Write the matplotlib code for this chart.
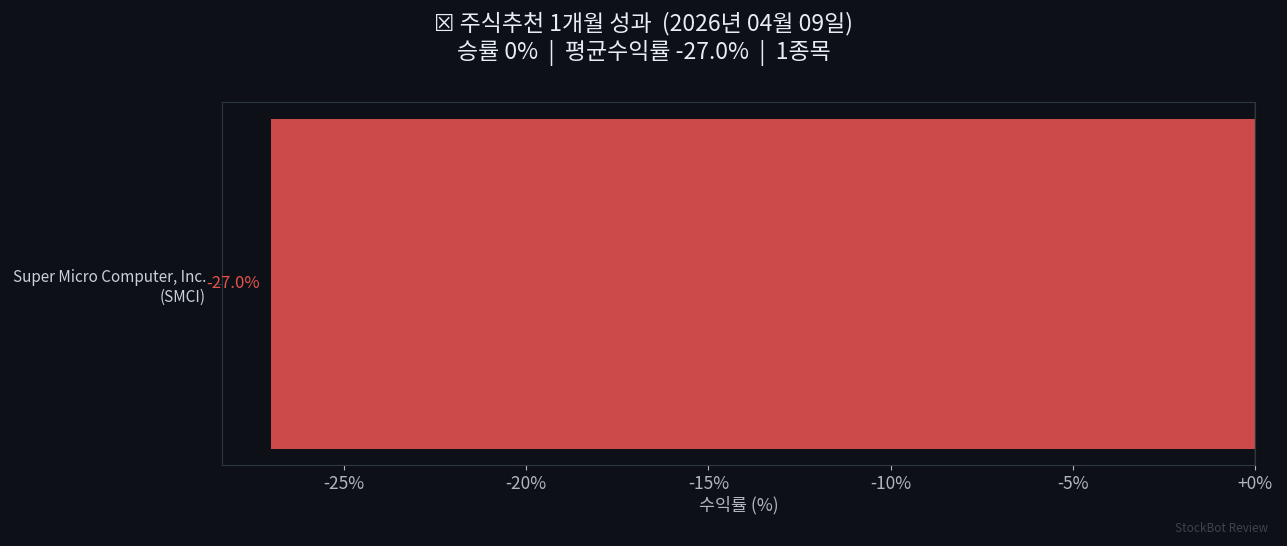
import matplotlib
matplotlib.use("Agg")
import matplotlib.pyplot as plt
from matplotlib.ticker import FuncFormatter

plt.rcParams['font.family'] = ['Noto Sans CJK KR', 'DejaVu Sans']

# 데이터
names = ["Super Micro Computer, Inc.\n(SMCI)"]
returns = [-27.0]
title_date = "2026년 04월 09일"
win_rate = 0
avg_return = -27.0

BG = "#0d1117"
BAR_RED = "#cd4a4a"
TEXT_RED = "#e5534b"
SPINE = "#30363d"
TICK = "#b0b6bf"

fig, ax = plt.subplots(figsize=(12.87, 5.46), dpi=100)
fig.patch.set_facecolor(BG)
ax.set_facecolor(BG)

y = list(range(len(names)))
ax.barh(y, returns, color=BAR_RED, height=0.6)
ax.axvline(0, color="#555b63", linewidth=1)

for yi, v in zip(y, returns):
    lbl = f"{v:.1f}%" if v < 0 else f"+{v:.1f}%"
    ax.text(v - 0.3, yi, lbl, va="center", ha="right", color=TEXT_RED, fontsize=12)

ax.set_yticks(y)
ax.set_yticklabels(names, fontsize=11, linespacing=1.25)
ax.set_xlim(min(returns) * 1.05, 0)
ax.xaxis.set_major_formatter(FuncFormatter(lambda v, p: f"{v:+.0f}%"))
ax.tick_params(axis="x", colors=TICK, labelsize=12.5)
ax.tick_params(axis="y", colors=SPINE, pad=8)
for lab in ax.get_yticklabels():
    lab.set_color("#c9d1d9")
ax.set_xlabel("수익률 (%)", color=TICK, fontsize=12.5, labelpad=2)

for s in ax.spines.values():
    s.set_color(SPINE)

fig.suptitle(f"☒ 주식추천 1개월 성과  ({title_date})\n"
             f"승률 {win_rate}%  |  평균수익률 {avg_return:.1f}%  |  {len(names)}종목",
             color="#e6edf3", fontsize=16.5, y=0.978, linespacing=1.2)
fig.text(0.985, 0.025, "StockBot Review", color="#3d444d", fontsize=8.5, ha="right")

fig.subplots_adjust(left=0.1725, right=0.975, top=0.813, bottom=0.148)
fig.savefig("out.png", dpi=100, facecolor=BG)
